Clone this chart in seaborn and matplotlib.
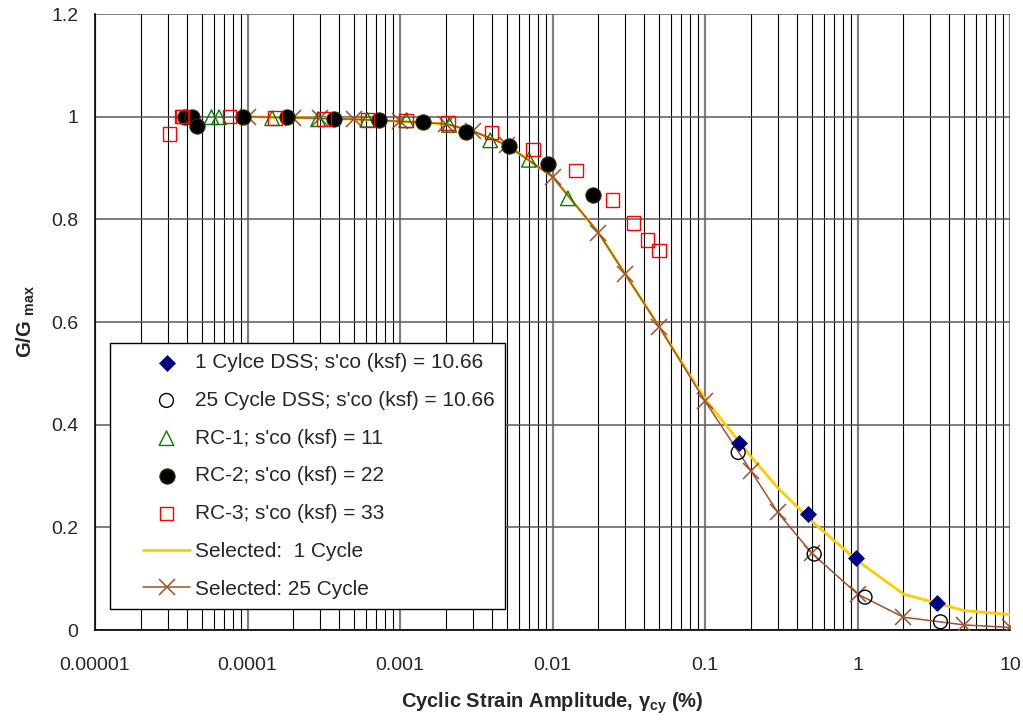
import matplotlib
matplotlib.use("Agg")
import matplotlib.pyplot as plt
import seaborn as sns
from matplotlib.ticker import FixedLocator, LogLocator, NullFormatter
from matplotlib.lines import Line2D
from matplotlib.collections import PathCollection
from matplotlib.legend_handler import HandlerLine2D, HandlerPathCollection

# selected design curves
sel_strain = [0.0001, 0.0002, 0.0003, 0.0005, 0.001, 0.002, 0.003, 0.005, 0.01, 0.02,
              0.03, 0.05, 0.1, 0.2, 0.3, 0.5, 1, 2, 5, 10]
sel_1cyc = [1.0, 0.998, 0.997, 0.995, 0.991, 0.986, 0.972, 0.945, 0.883, 0.774,
            0.693, 0.591, 0.450, 0.338, 0.277, 0.212, 0.135, 0.070, 0.038, 0.030]
sel_25cyc = [1.0, 0.998, 0.997, 0.995, 0.991, 0.986, 0.972, 0.945, 0.883, 0.774,
             0.693, 0.591, 0.446, 0.310, 0.229, 0.150, 0.070, 0.025, 0.010, 0.005]

# DSS tests
dss1_strain = [0.167, 0.47, 0.98, 3.3]
dss1_g = [0.364, 0.226, 0.140, 0.053]
dss25_strain = [0.165, 0.52, 1.12, 3.5]
dss25_g = [0.346, 0.148, 0.064, 0.016]

# resonant column tests
rc1_strain = [5.8e-5, 6.5e-5, 1.45e-4, 2.9e-4, 6.1e-4, 1.1e-3, 2.1e-3, 3.9e-3, 7.0e-3, 0.0126]
rc1_g = [0.999, 0.999, 0.997, 0.995, 0.994, 0.993, 0.984, 0.954, 0.916, 0.841]
rc2_strain = [3.87e-5, 4.3e-5, 4.67e-5, 9.3e-5, 1.81e-4, 3.67e-4, 7.28e-4, 1.41e-3,
              2.72e-3, 5.19e-3, 9.37e-3, 0.0183]
rc2_g = [1.0, 1.0, 0.982, 1.0, 0.999, 0.996, 0.993, 0.990, 0.971, 0.943, 0.908, 0.847]
rc3_strain = [3.08e-5, 3.68e-5, 3.75e-5, 7.6e-5, 1.52e-4, 3.16e-4, 6.1e-4, 1.09e-3,
              2.06e-3, 3.97e-3, 7.46e-3, 0.0143, 0.0248, 0.034, 0.0421, 0.050]
rc3_g = [0.966, 1.0, 1.0, 1.0, 0.997, 0.996, 0.994, 0.993, 0.988, 0.969, 0.936,
         0.895, 0.838, 0.793, 0.760, 0.739]

x_ticks = [1e-5, 1e-4, 1e-3, 1e-2, 1e-1, 1, 10]
x_ticklabels = ["0.00001", "0.0001", "0.001", "0.01", "0.1", "1", "10"]
y_ticks = [0, 0.2, 0.4, 0.6, 0.8, 1.0, 1.2]
y_ticklabels = ["0", "0.2", "0.4", "0.6", "0.8", "1", "1.2"]

sns.set_style("white")
plt.rcParams["font.family"] = ["Liberation Sans", "DejaVu Sans"]
plt.rcParams["mathtext.fontset"] = "custom"
plt.rcParams["mathtext.rm"] = "Liberation Sans"
plt.rcParams["mathtext.it"] = "Liberation Sans:italic"
plt.rcParams["mathtext.bf"] = "Liberation Sans:bold"

fig, ax = plt.subplots(figsize=(10.23, 7.23), dpi=100)
fig.subplots_adjust(left=0.0929, right=0.9873, top=0.9806, bottom=0.1286)
ax.set_xscale("log")

sns.scatterplot(x=dss1_strain, y=dss1_g, marker="D", s=66, color="#000080",
                edgecolor="#000080", linewidth=0.5, label="1 Cylce DSS; s'co (ksf) = 10.66",
                zorder=4, ax=ax)
sns.scatterplot(x=dss25_strain, y=dss25_g, marker="o", s=100, facecolor="none",
                edgecolor="black", linewidth=1.0, label="25 Cycle DSS; s'co (ksf) = 10.66",
                zorder=4, ax=ax)
sns.scatterplot(x=rc1_strain, y=rc1_g, marker="^", s=110, facecolor="none",
                edgecolor="#008000", linewidth=1.0, label="RC-1; s'co (ksf) = 11",
                zorder=4, ax=ax)
sns.scatterplot(x=rc2_strain, y=rc2_g, marker="o", s=120, color="black",
                edgecolor="#333300", linewidth=0.8, label="RC-2; s'co (ksf) = 22",
                zorder=4, ax=ax)
sns.scatterplot(x=rc3_strain, y=rc3_g, marker="s", s=95, facecolor="none",
                edgecolor="#FF0000", linewidth=1.0, label="RC-3; s'co (ksf) = 33",
                zorder=4, ax=ax)

sns.lineplot(x=sel_strain, y=sel_1cyc, color="#FFCC00", linewidth=2.0,
             label="Selected:  1 Cycle", zorder=2, ax=ax)
sns.lineplot(x=sel_strain, y=sel_25cyc, color="#A0522D", linewidth=1.1, marker="x",
             markersize=12, markeredgewidth=1.1, markeredgecolor="#A0522D",
             label="Selected: 25 Cycle", zorder=3, ax=ax)

ax.set_xlim(1e-5, 10)
ax.set_ylim(0, 1.2)
ax.xaxis.set_major_locator(FixedLocator(x_ticks))
ax.set_xticklabels(x_ticklabels)
ax.xaxis.set_minor_locator(LogLocator(base=10, subs=range(2, 10), numticks=20))
ax.xaxis.set_minor_formatter(NullFormatter())
ax.set_yticks(y_ticks)
ax.set_yticklabels(y_ticklabels)

ax.set_axisbelow(True)
ax.grid(which="major", axis="x", color="#808080", linewidth=1.6)
ax.grid(which="minor", axis="x", color="black", linewidth=0.8)
ax.grid(which="major", axis="y", color="#5a5a5a", linewidth=1.1)

ax.tick_params(axis="x", which="major", labelsize=14, length=4.3, width=1,
               color="#404040", direction="out", pad=15)
ax.tick_params(axis="y", which="major", labelsize=14, length=5, width=1,
               color="#404040", direction="out", pad=7)
ax.tick_params(which="minor", length=0)
for side in ["top", "right"]:
    ax.spines[side].set_visible(False)
for side in ["left", "bottom"]:
    ax.spines[side].set_color("black")
    ax.spines[side].set_linewidth(1.2)

ax.set_xlabel(r"Cyclic Strain Amplitude, $\mathbf{\gamma_{cy}}$ (%)", fontsize=14.5,
              fontweight="bold", labelpad=12)
ax.set_ylabel(r"$\mathbf{G/G}\ _{\mathbf{max}}$", fontsize=14.5, labelpad=10)

pad_em = 1.08
leg = ax.legend(loc="lower left", bbox_to_anchor=(0.0164, 0.034), borderaxespad=0,
                fontsize=15, frameon=True, fancybox=False, framealpha=1,
                edgecolor="black", handlelength=3.34, handletextpad=0.24,
                labelspacing=0.9, borderpad=0.5,
                handler_map={Line2D: HandlerLine2D(xpad=pad_em),
                             PathCollection: HandlerPathCollection(xpad=pad_em)})
leg.get_frame().set_linewidth(1.0)

fig.savefig("out.png", dpi=100)
